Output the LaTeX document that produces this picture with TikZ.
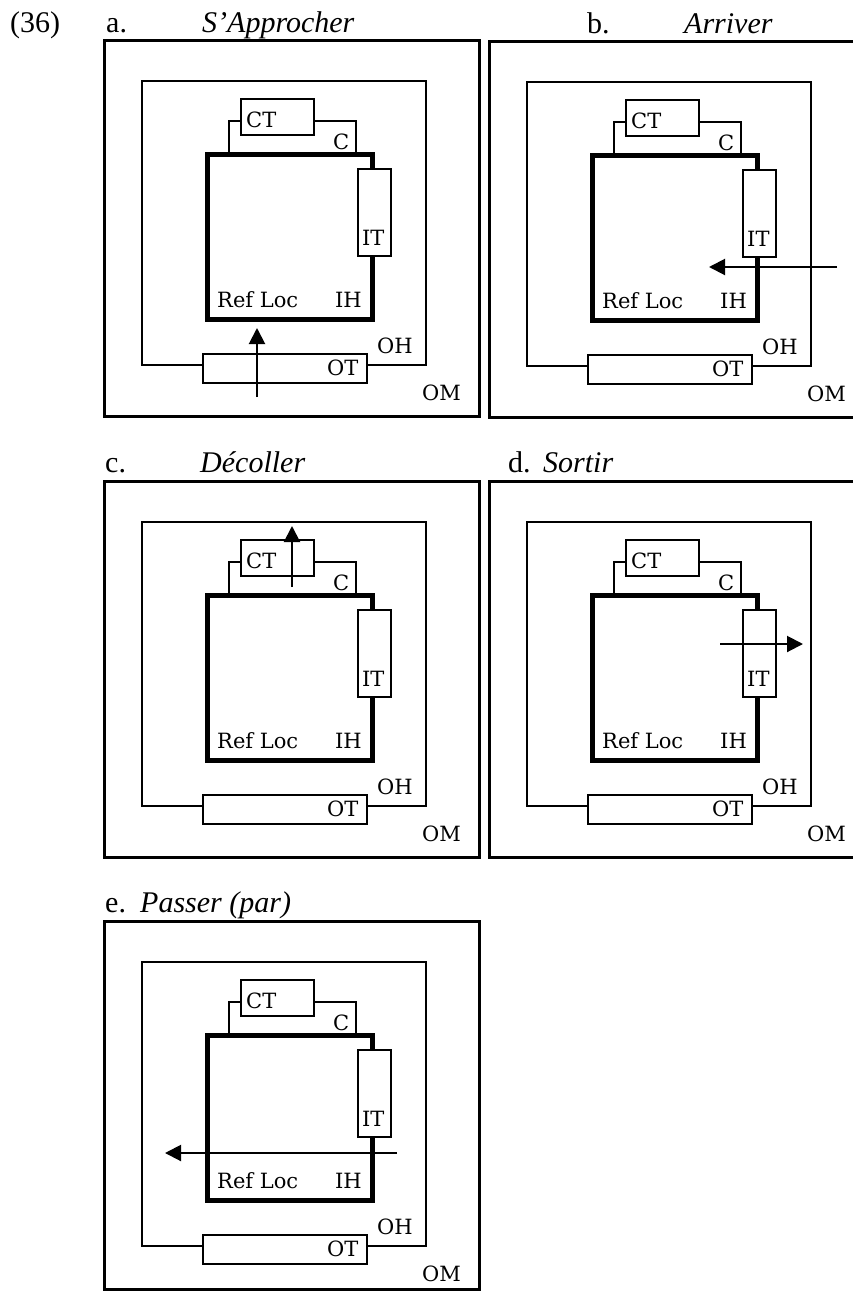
\documentclass[tikz,border=0pt]{standalone}
\usepackage{fontspec}
\setmainfont{Liberation Serif}
\newfontfamily\labelfont{DejaVu Serif}
\usetikzlibrary{arrows.meta}
\tikzset{
  outerbox/.style={line width=3pt},
  home/.style={line width=2pt},
  ground/.style={line width=5pt},
  part/.style={draw, line width=2pt, fill=white},
  lbl/.style={inner sep=0pt, anchor=base west, font=\labelfont\fontsize{21}{21}\selectfont},
  ttl/.style={inner sep=0pt, anchor=base west, font=\fontsize{30}{30}\selectfont},
  motion/.style={line width=2pt, -{Triangle[width=16pt,length=16pt]}}
}
\begin{document}
\begin{tikzpicture}[x=1pt,y=-1pt]
  \useasboundingbox (0,0) rectangle (853,1291);
  \clip (0,0) rectangle (853,1291);
  % the same situation five times
  \foreach \p/\dx/\dy/\fb in {a/0/0/416,b/385/1/416,c/0/441/416,d/385/441/416,e/0/881/408.5}{
    \begin{scope}[shift={(\dx,\dy)}]
      \draw[outerbox] (104,40) rectangle (479,\fb);
      \draw[home] (142,81) rectangle (426,365);
      \draw[home] (229,154) |- (356,121) -- (356,154);
      \draw[ground] (207,154) rectangle (372,319);
      \draw[part] (241,99) rectangle (314,135);
      \draw[part] (358,169) rectangle (391,256);
      \draw[part] (203,354) rectangle (367,383);
      \node[lbl] (\p-CT) at (246,127) {CT};
      \node[lbl] (\p-C) at (333,149) {C};
      \node[lbl] (\p-IT) at (362,245) {IT};
      \node[lbl] (\p-ref) at (217,307) {Ref Loc};
      \node[lbl] (\p-IH) at (335,307) {IH};
      \node[lbl] (\p-OH) at (377,353) {OH};
      \node[lbl] (\p-OT) at (327,375) {OT};
      \node[lbl] (\p-OM) at (422,400) {OM};
    \end{scope}
  }
  % paths of the figure
  \foreach \p/\x/\y/\u/\v in {a/257/397/257/328, b/837/267/709/267, c/292/587/292/526,
      d/720/644/803/644, e/397/1153/165/1153}{
    \coordinate (\p-from) at (\x,\y);
    \coordinate (\p-to) at (\u,\v);
    \draw[motion] (\p-from) -- (\p-to);
  }
  \node[ttl] (num) at (10,32) {(36)};
  \node[ttl] (a-item) at (106,32) {a.};
  \node[ttl] (a-verb) at (202,32) {\itshape S'Approcher};
  \node[ttl] (b-item) at (587,33) {b.};
  \node[ttl] (b-verb) at (684,33) {\itshape Arriver};
  \node[ttl] (c-item) at (105,472) {c.};
  \node[ttl] (c-verb) at (200,472) {\itshape Décoller};
  \node[ttl] (d-item) at (508,472) {d.};
  \node[ttl] (d-verb) at (543,472) {\itshape Sortir};
  \node[ttl] (e-item) at (105,912) {e.};
  \node[ttl] (e-verb) at (140,912) {\itshape Passer (par)};
\end{tikzpicture}
\end{document}
